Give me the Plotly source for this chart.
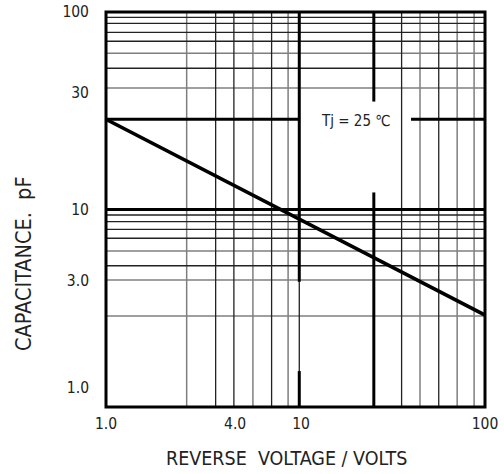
import plotly.graph_objects as go

# ---- data ----
VOLTAGE = [1.0, 10.0, 100.0]            # reverse voltage, V
CAPACITANCE = [28.6, 9.1, 2.92]         # capacitance, pF

X_TICK_VALS = [1.0, 4.8, 10.7, 100.0]
X_TICK_TEXT = ["1.0", "4.0", "10", "100"]
Y_TICK_VALS = [100.0, 38.9, 10.0, 4.38, 1.26]
Y_TICK_TEXT = ["100", "30", "10", "3.0", "1.0"]

GRID_X_DARK = [3.79, 4.73, 7.48, 10.47, 36.3, 57.0]
GRID_X_GREY = [2.665, 5.96, 9.14, 45.4, 71.3, 87.6]
GRID_Y_DARK = [94.0, 87.6, 78.9, 71.1, 51.9, 9.38, 8.68, 7.94, 7.15, 5.19]
GRID_Y_GREY = [61.8, 41.2, 6.16, 4.40, 2.89]

# heavy reference lines: (x0, x1, y0, y1)
HEAVY_SEGMENTS = [
    (1.0, 10.47, 28.6, 28.6),
    (40.7, 100.0, 28.6, 28.6),
    (1.0, 100.0, 10.0, 10.0),
    (10.47, 10.47, 100.0, 4.31),
    (10.47, 10.47, 1.52, 1.0),
    (25.9, 25.9, 100.0, 35.2),
    (25.9, 25.9, 12.2, 1.0),
]

X_MIN, X_MAX = 1.0, 100.0
Y_MIN, Y_MAX = 1.0, 100.0

FONT = "'DejaVu Sans Condensed', 'Liberation Sans Narrow', sans-serif"


def grid_xy(xs, ys):
    gx, gy = [], []
    for v in xs:
        gx += [v, v, None]
        gy += [Y_MIN, Y_MAX, None]
    for v in ys:
        gx += [X_MIN, X_MAX, None]
        gy += [v, v, None]
    return gx, gy


fig = go.Figure()

gx, gy = grid_xy(GRID_X_GREY, GRID_Y_GREY)
fig.add_trace(go.Scatter(x=gx, y=gy, mode="lines",
                         line=dict(color="#7f7f7f", width=1.5),
                         hoverinfo="skip", showlegend=False))
gx, gy = grid_xy(GRID_X_DARK, GRID_Y_DARK)
fig.add_trace(go.Scatter(x=gx, y=gy, mode="lines",
                         line=dict(color="#222222", width=1.3),
                         hoverinfo="skip", showlegend=False))

hx, hy = [], []
for x0, x1, y0, y1 in HEAVY_SEGMENTS:
    hx += [x0, x1, None]
    hy += [y0, y1, None]
fig.add_trace(go.Scatter(x=hx, y=hy, mode="lines",
                         line=dict(color="#000000", width=3),
                         hoverinfo="skip", showlegend=False))

fig.add_trace(go.Scatter(x=VOLTAGE, y=CAPACITANCE, mode="lines",
                         line=dict(color="#000000", width=3.5),
                         showlegend=False))

axis_common = dict(type="log", showgrid=False, zeroline=False, showline=False,
                   ticks="", tickmode="array",
                   tickfont=dict(family=FONT, size=15.5, color="#222222"))

fig.update_xaxes(range=[0, 2], tickvals=X_TICK_VALS, ticktext=X_TICK_TEXT,
                 ticklabelstandoff=5, **axis_common)
fig.update_yaxes(range=[0, 2], tickvals=Y_TICK_VALS, ticktext=Y_TICK_TEXT,
                 ticklabelstandoff=16, **axis_common)

fig.add_shape(type="rect", xref="x domain", yref="y domain",
              x0=0, x1=1, y0=0, y1=1, line=dict(color="#000000", width=3),
              layer="above")

fig.add_annotation(text="REVERSE\u00a0\u00a0VOLTAGE / VOLTS", xref="paper", yref="paper",
                   x=0.475, y=-0.1316, xanchor="center", yanchor="middle",
                   showarrow=False, font=dict(family=FONT, size=19.5, color="#222222"))
fig.add_annotation(text="CAPACITANCE.\u00a0\u00a0pF", xref="paper", yref="paper",
                   x=-0.2164, y=0.3646, xanchor="center", yanchor="middle",
                   textangle=-90, showarrow=False,
                   font=dict(family=FONT, size=21.5, color="#222222"))
fig.add_annotation(text="Tj = 25 \u2103", xref="paper", yref="paper",
                   x=0.657, y=0.7248, xanchor="center", yanchor="middle",
                   showarrow=False, font=dict(family=FONT, size=15, color="#222222"))

fig.update_layout(width=504, height=474,
                  margin=dict(l=106, r=19, t=12, b=67, autoexpand=False),
                  paper_bgcolor="white", plot_bgcolor="white")

# remove the default 8 px page margin so the figure fills the window exactly
fig.write_html("out.html",
               config={"displayModeBar": False, "staticPlot": True},
               post_script="document.body.style.margin='0px';"
                           "document.body.style.overflow='hidden';")
